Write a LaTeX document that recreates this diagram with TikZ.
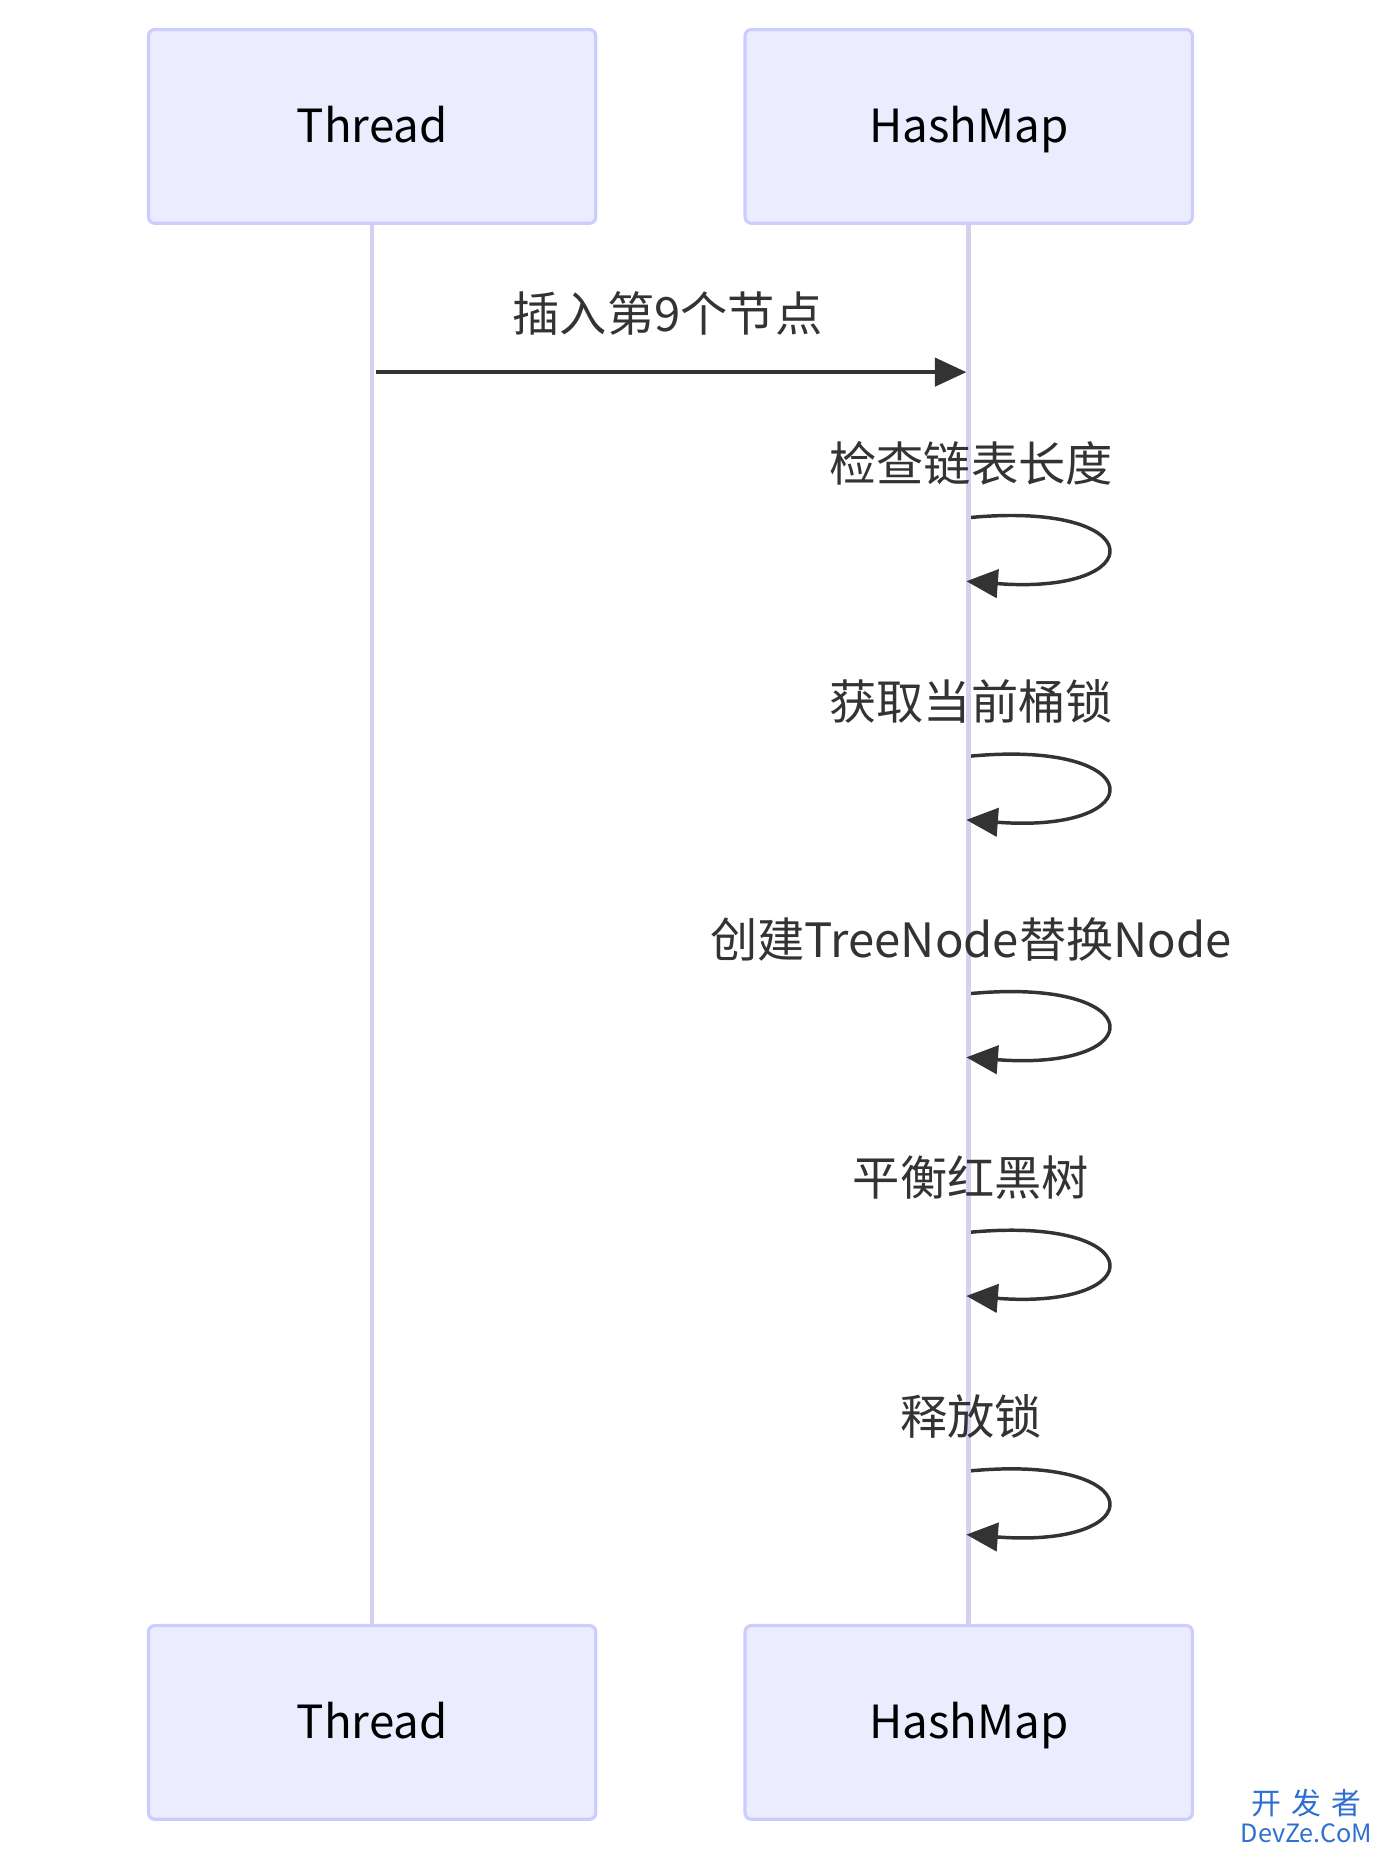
\documentclass[tikz,border=0pt]{standalone}
\usepackage{fontspec}
\setmainfont{Noto Sans CJK SC}
\usetikzlibrary{arrows.meta}
\definecolor{actorfill}{HTML}{ECECFF}
\definecolor{actorline}{HTML}{CCCCFF}
\definecolor{lifeline}{HTML}{D6D0F0}
\definecolor{msgline}{HTML}{333333}
\definecolor{markblue}{HTML}{2F6FD0}

\begin{document}
\begin{tikzpicture}[
    x=0.75pt, y=-0.75pt,
    actor/.style={
        draw=actorline, % light purple border
        fill=actorfill, % pale blue fill
        line width=2pt,
        rounded corners=4pt,
        minimum width=284pt, minimum height=123pt,
        text height=23pt, text depth=3pt,
        font=\fontsize{29}{34}\selectfont
    },
    msglabel/.style={font=\fontsize{30}{36}\selectfont, text=msgline},
    msg/.style={draw=msgline, line width=2.2pt, -{Triangle[length=20pt,width=18pt]}}
]
\useasboundingbox (0,0) rectangle (1184,1577);

% actors
\node[actor] (threadtop) at (315,107) {Thread};
\node[actor] (maptop) at (820,107) {HashMap};
\node[actor] (threadbot) at (315,1458) {Thread};
\node[actor] (mapbot) at (820,1458) {HashMap};

% lifelines
\draw[lifeline, line width=3pt] (threadtop.south) -- (threadbot.north);
\draw[lifeline, line width=3pt] (maptop.south) -- (mapbot.north);

% message
\coordinate (m1s) at (318,315);
\coordinate (m1e) at (818,315);
\draw[msg] (m1s) -- (m1e);
\node[msglabel] (m1) at (565,265) {插入第9个节点};

% self messages
\foreach \y/\txt [count=\i] in {392/检查链表长度, 594/获取当前桶锁, 795/创建TreeNode替换Node, 997/平衡红黑树, 1199/释放锁}{
    \node[msglabel] (self\i) at (822,\y) {\txt};
    \coordinate (ss\i) at (822,\y+46);
    \coordinate (se\i) at (818,\y+100);
    \draw[msg] (ss\i) .. controls (975,\y+32) and (975,\y+112) .. (se\i);
}

% watermark
\node[text=markblue, font=\fontsize{19}{19}\selectfont, inner sep=0pt] (markcn) at (1106,1526) {开\,\,发\,\,者};
\node[text=markblue, font=\fontsize{16}{16}\selectfont, inner sep=0pt] (marken) at (1106,1552) {DevZe.CoM};
\end{tikzpicture}
\end{document}
